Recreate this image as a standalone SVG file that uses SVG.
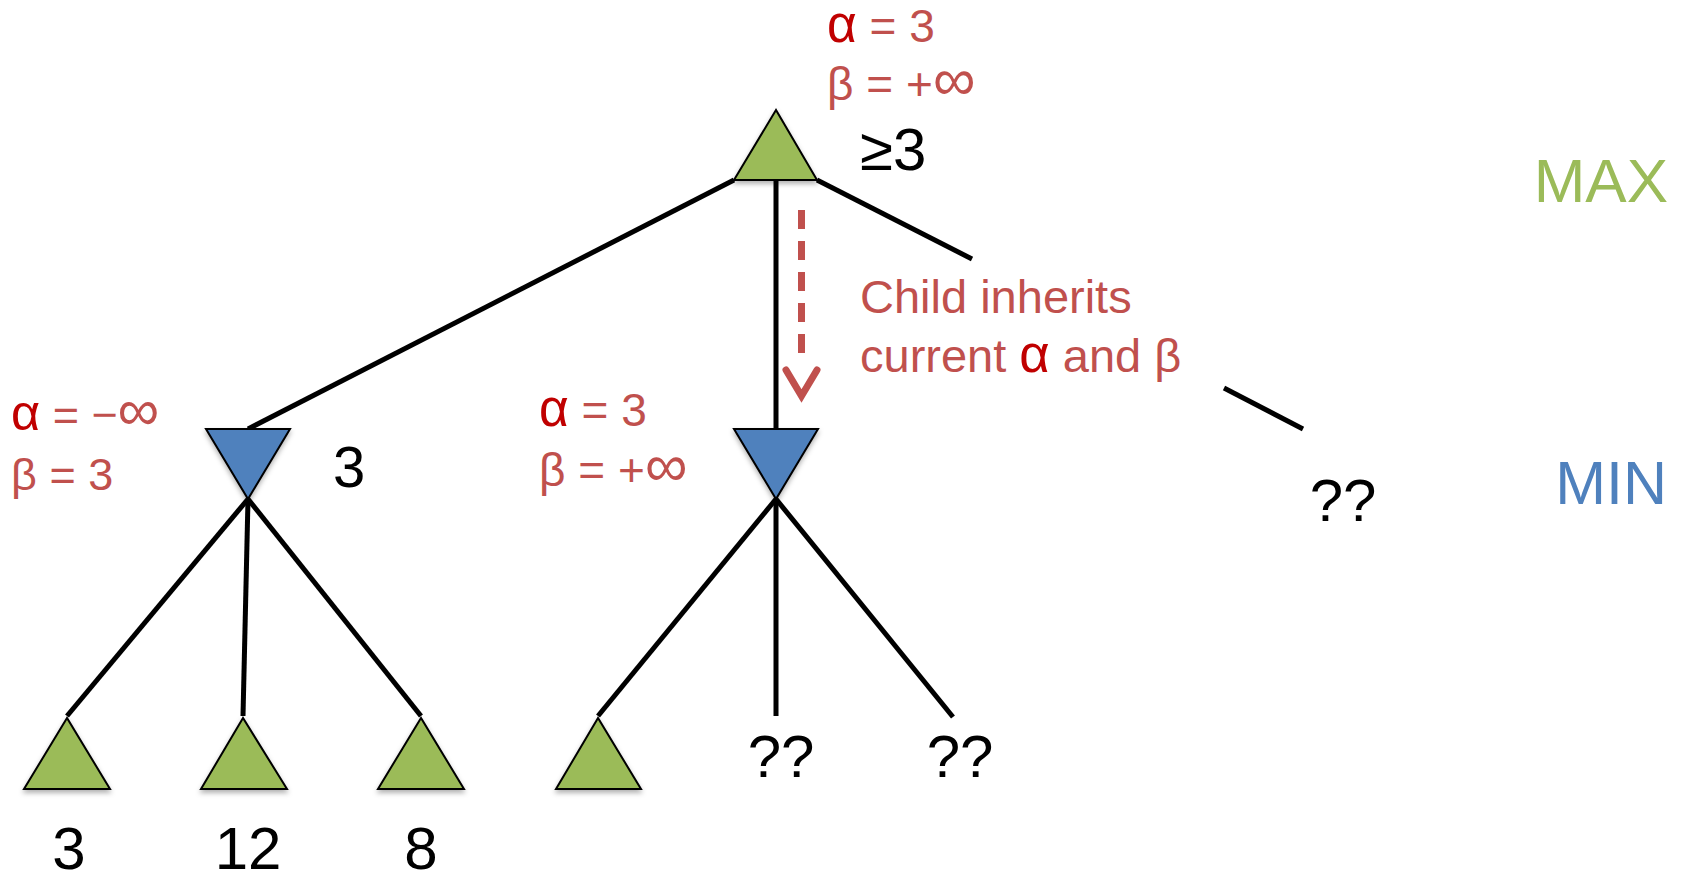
<svg xmlns="http://www.w3.org/2000/svg" width="1689" height="876" viewBox="0 0 1689 876">
<style>
.edge{stroke:#000;stroke-width:5;fill:none}
.max{fill:#9BBB59;stroke:#000;stroke-width:2;stroke-linejoin:miter}
.min{fill:#4F81BD;stroke:#000;stroke-width:2;stroke-linejoin:miter}
.t{font-family:"Liberation Sans",Arial,sans-serif;fill:#000}
.r{font-family:"Liberation Sans",Arial,sans-serif;fill:#C0504D}
.a{fill:#C00000;font-size:1.12em}
.inf{font-size:1.3em}
</style>
<defs>
<filter id="sh" x="-20%" y="-20%" width="140%" height="150%">
<feDropShadow dx="0" dy="3" stdDeviation="2.5" flood-color="#000" flood-opacity="0.3"/>
</filter>
</defs>
<rect width="1689" height="876" fill="#fff"/>
<g id="connectors">
<line class="edge" x1="734" y1="180" x2="248" y2="429"/>
<line class="edge" x1="776" y1="180" x2="776" y2="429"/>
<line class="edge" x1="817" y1="180" x2="972" y2="259"/>
<line class="edge" x1="1224" y1="388" x2="1303" y2="429"/>
<line class="edge" x1="248" y1="499" x2="67" y2="716"/>
<line class="edge" x1="248" y1="499" x2="243" y2="716"/>
<line class="edge" x1="248" y1="499" x2="421" y2="716"/>
<line class="edge" x1="776" y1="499" x2="598" y2="716"/>
<line class="edge" x1="776" y1="499" x2="776" y2="716"/>
<line class="edge" x1="776" y1="499" x2="953" y2="717"/>
<g id="inherit-arrow">
<line x1="801.5" y1="210" x2="801.5" y2="362" stroke="#C0504D" stroke-width="7" stroke-dasharray="19 12"/>
<polyline points="786,370 801.5,396 817,370" fill="none" stroke="#C0504D" stroke-width="7" stroke-linecap="round"/>
</g>
</g>
<g id="root">
<polygon class="max" filter="url(#sh)" points="776,110 734,180 817,180"/>
<text class="r" x="827" y="42" font-size="46"><tspan class="a">α</tspan> = 3</text>
<text class="r" x="827" y="100" font-size="46">β = +<tspan class="inf">∞</tspan></text>
<text class="t" x="860" y="170" font-size="60">≥3</text>
</g>
<g id="min1">
<polygon class="min" filter="url(#sh)" points="206,429 290,429 248,499"/>
<text class="r" x="11" y="430" font-size="45"><tspan class="a">α</tspan> = −<tspan class="inf">∞</tspan></text>
<text class="r" x="11" y="490" font-size="45">β = 3</text>
<text class="t" x="333" y="487" font-size="58">3</text>
</g>
<g id="min2">
<polygon class="min" filter="url(#sh)" points="734,429 818,429 776,499"/>
<text class="r" x="539" y="426" font-size="46"><tspan class="a">α</tspan> = 3</text>
<text class="r" x="539" y="486" font-size="46">β = +<tspan class="inf">∞</tspan></text>
</g>
<g id="min3">
<text class="t" x="1343" y="521" font-size="60" text-anchor="middle">??</text>
</g>
<g id="leaf1">
<polygon class="max" filter="url(#sh)" points="67,718 24,789 110,789"/>
<text class="t" x="69" y="869" font-size="60" text-anchor="middle">3</text>
</g>
<g id="leaf2">
<polygon class="max" filter="url(#sh)" points="243,718 201,789 287,789"/>
<text class="t" x="248" y="869" font-size="60" text-anchor="middle">12</text>
</g>
<g id="leaf3">
<polygon class="max" filter="url(#sh)" points="421,718 378,789 464,789"/>
<text class="t" x="421" y="869" font-size="60" text-anchor="middle">8</text>
</g>
<g id="leaf4">
<polygon class="max" filter="url(#sh)" points="598,718 556,789 641,789"/>
</g>
<g id="leaf5">
<text class="t" x="781" y="777" font-size="60" text-anchor="middle">??</text>
</g>
<g id="leaf6">
<text class="t" x="960" y="777" font-size="60" text-anchor="middle">??</text>
</g>
<g id="note">
<text class="r" x="860" y="313" font-size="47">Child inherits</text>
<text class="r" x="860" y="372" font-size="47">current <tspan class="a">α</tspan> and β</text>
</g>
<g id="levels">
<text x="1668" y="202" font-size="62" text-anchor="end" font-family="Liberation Sans, Arial, sans-serif" fill="#9BBB59">MAX</text>
<text x="1667" y="504" font-size="61" text-anchor="end" font-family="Liberation Sans, Arial, sans-serif" fill="#4F81BD">MIN</text>
</g>
</svg>
